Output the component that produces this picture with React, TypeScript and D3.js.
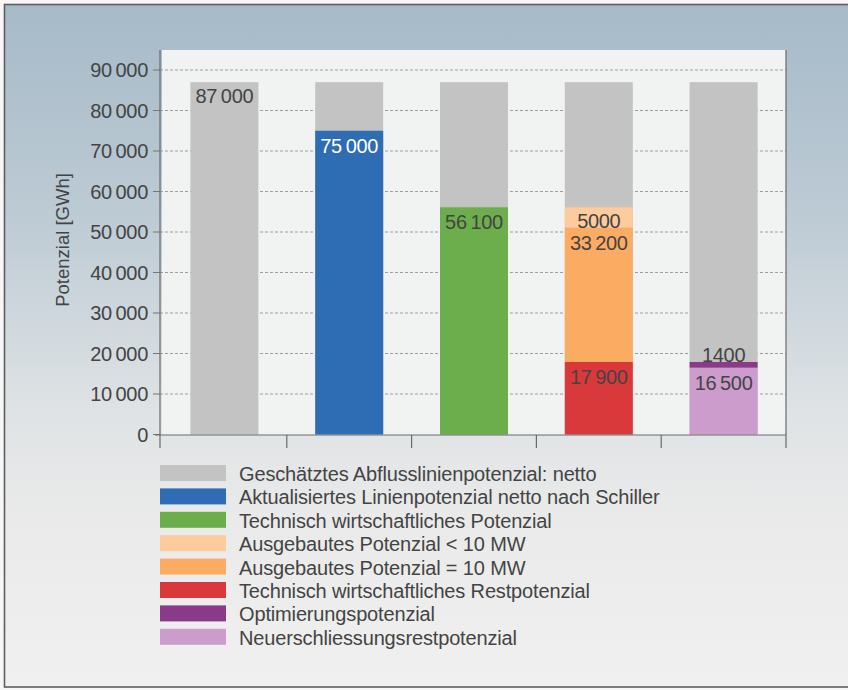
import React from "react";
import * as d3 from "d3";

// ---- data ----
const categories = ["1", "2", "3", "4", "5"];
const grossValues = [87000, 87000, 87000, 87000, 87000];
const schillerValues = [0, 75000, 0, 0, 0];
const techValues = [0, 0, 56100, 0, 0];
const smallPlantValues = [0, 0, 0, 5000, 0];
const largePlantValues = [0, 0, 0, 33200, 0];
const restValues = [0, 0, 0, 17900, 0];
const optimValues = [0, 0, 0, 0, 1400];
const newValues = [0, 0, 0, 0, 16500];
const yTicks = [0, 10000, 20000, 30000, 40000, 50000, 60000, 70000, 80000, 90000];

const legendLabels = [
  "Geschätztes Abflusslinienpotenzial: netto",
  "Aktualisiertes Linienpotenzial netto nach Schiller",
  "Technisch wirtschaftliches Potenzial",
  "Ausgebautes Potenzial < 10 MW",
  "Ausgebautes Potenzial = 10 MW",
  "Technisch wirtschaftliches Restpotenzial",
  "Optimierungspotenzial",
  "Neuerschliessungsrestpotenzial",
];
const legendColors = ["#c3c3c3", "#2e6cb4", "#6cae4c", "#fecb9c", "#fcab63", "#d9393b", "#8b3a8a", "#cc9dcc"];

// stacked series, bottom to top
const stackKeys = ["rest", "neu", "optim", "large", "small", "schiller", "tech"];
const stackColor: Record<string, string> = {
  rest: legendColors[5],
  neu: legendColors[7],
  optim: legendColors[6],
  large: legendColors[4],
  small: legendColors[3],
  schiller: legendColors[1],
  tech: legendColors[2],
};
const rows = categories.map((c, i) => ({
  cat: c,
  rest: restValues[i],
  neu: newValues[i],
  optim: optimValues[i],
  large: largePlantValues[i],
  small: smallPlantValues[i],
  schiller: schillerValues[i],
  tech: techValues[i],
}));

const fmt = (v: number) =>
  v >= 10000 ? d3.format(",")(v).replace(/,/g, "\u2009") : String(v);

const W = 848;
const H = 690;
const plot = { left: 162, right: 786, top: 50, bottom: 435 };
const FONT = "'Liberation Sans', Arial, sans-serif";
const TXT = "#444444";
const FS = 20;

export default function App() {
  const x = d3
    .scaleBand<string>()
    .domain(categories)
    .range([plot.left, plot.right])
    .paddingInner(0.455)
    .paddingOuter(0.2275);
  const y = d3.scaleLinear().domain([0, 90000]).range([434.5, 70]);
  const stacked = d3.stack<any>().keys(stackKeys)(rows);
  const bw = x.bandwidth();
  const step = x.step();
  const bandEdges = categories.map((c) => (x(c) as number) - (step - bw) / 2);

  const labels: { x: number; y: number; text: string; fill: string }[] = [];
  categories.forEach((c, i) => {
    const cx = (x(c) as number) + bw / 2;
    const total = stackKeys.reduce((s, k) => s + (rows[i] as any)[k], 0);
    if (total === 0) {
      labels.push({ x: cx, y: y(grossValues[i]) + 21, text: fmt(grossValues[i]), fill: TXT });
    }
  });
  stacked.forEach((s) => {
    s.forEach((d, i) => {
      const v = d[1] - d[0];
      if (v <= 0) return;
      const cx = (x(categories[i]) as number) + bw / 2;
      const h = y(d[0]) - y(d[1]);
      const by = h < 12 ? y(d[1]) : y(d[1]) + Math.min(22, h);
      labels.push({ x: cx, y: by, text: fmt(v), fill: s.key === "schiller" ? "#ffffff" : TXT });
    });
  });

  return (
    <svg
      width={W}
      height={H}
      style={{ position: "absolute", left: 0, top: 0, display: "block" }}
      fontFamily={FONT}
    >
      <defs>
        <linearGradient id="bg" x1="0" y1="0" x2="0" y2="1">
          <stop offset="0" stopColor="#a6bac8" />
          <stop offset="0.3" stopColor="#bccad4" />
          <stop offset="0.6" stopColor="#dfe3e5" />
          <stop offset="0.75" stopColor="#eaeaea" />
          <stop offset="1" stopColor="#f0f0f0" />
        </linearGradient>
      </defs>
      <rect x={0} y={0} width={W} height={H} fill="#f7f7f7" />
      <rect x={4.5} y={4.5} width={W + 10} height={H - 7.5} fill="url(#bg)" stroke="#5e5e5e" strokeWidth={1.6} />

      {/* plot area */}
      <rect x={plot.left} y={plot.top} width={plot.right - plot.left} height={plot.bottom - plot.top} fill="#f1f3f3" />

      {/* grid */}
      {yTicks.map((t) => (
        <g key={t}>
          {t > 0 && (
            <line x1={160} x2={plot.right} y1={y(t)} y2={y(t)} stroke="#9d9d9d" strokeWidth={1} strokeDasharray="3,2" />
          )}
          <line x1={153} x2={160} y1={y(t)} y2={y(t)} stroke="#777" strokeWidth={1} />
          <text x={148} y={y(t)} dy="0.36em" textAnchor="end" fontSize={FS} fill={TXT} letterSpacing={-0.3}>
            {fmt(t)}
          </text>
        </g>
      ))}

      {/* gray background bars */}
      {categories.map((c, i) => (
        <rect key={c} x={x(c)} y={y(grossValues[i])} width={bw} height={y(0) - y(grossValues[i])} fill={legendColors[0]} />
      ))}
      {/* stacked segments */}
      {stacked.map((s) =>
        s.map((d, i) =>
          d[1] - d[0] > 0 ? (
            <rect
              key={s.key + i}
              x={x(categories[i])}
              y={y(d[1])}
              width={bw}
              height={y(d[0]) - y(d[1])}
              fill={stackColor[s.key]}
            />
          ) : null
        )
      )}
      {labels.map((l, i) => (
        <text key={i} x={l.x} y={l.y} textAnchor="middle" fontSize={FS} fill={l.fill} letterSpacing={-0.3}>
          {l.text}
        </text>
      ))}

      {/* axes */}
      <line x1={160} x2={160} y1={plot.top} y2={448} stroke="#6a6a6a" strokeWidth={1.2} />
      <line x1={155} x2={plot.right} y1={435} y2={435} stroke="#6a6a6a" strokeWidth={1.2} />
      <line x1={plot.right} x2={plot.right} y1={plot.top} y2={448} stroke="#6a6a6a" strokeWidth={1.2} />
      {bandEdges.slice(1).map((bx, i) => (
        <line key={i} x1={bx} x2={bx} y1={435} y2={448} stroke="#6a6a6a" strokeWidth={1.2} />
      ))}

      <text
        transform={`translate(69,${240}) rotate(-90)`}
        textAnchor="middle"
        fontSize={18.5}
        fill={TXT}
      >
        Potenzial [GWh]
      </text>

      {/* legend */}
      {legendLabels.map((lab, i) => (
        <g key={lab} transform={`translate(160,${465 + i * 23.4})`}>
          <rect x={0} y={0} width={66} height={16} fill={legendColors[i]} />
          <text x={79} y={16} fontSize={FS} fill={TXT} letterSpacing={-0.15}>
            {lab}
          </text>
        </g>
      ))}
    </svg>
  );
}
